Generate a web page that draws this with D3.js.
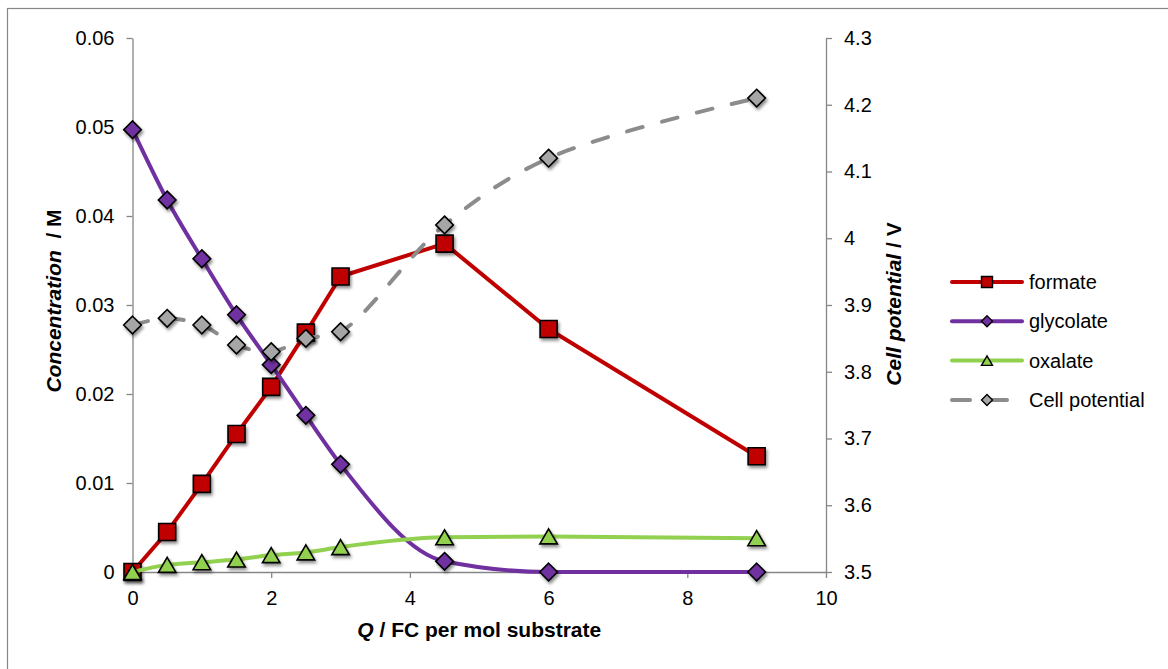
<!DOCTYPE html>
<html><head><meta charset="utf-8">
<script src="https://cdn.jsdelivr.net/npm/d3@7"></script>
<style>
body{margin:0;background:#fff}
svg{display:block}
text{font-family:"Liberation Sans",Arial,sans-serif;fill:#000}
</style>
</head><body>
<svg id="c" width="1168" height="669"></svg>
<script>
// ---- data ----
const qValues   = [0, 0.5, 1, 1.5, 2, 2.5, 3, 4.5, 6, 9];
const formate   = [0, 0.0045, 0.0099, 0.0155, 0.0208, 0.0269, 0.0332, 0.0369, 0.0273, 0.0130];
const glycolate = [0.0497, 0.0418, 0.0352, 0.0289, 0.0233, 0.0176, 0.0121, 0.0012, 0, 0];
const oxalate   = [0, 0.0008, 0.0011, 0.0014, 0.0019, 0.0022, 0.0028, 0.0039, 0.0040, 0.0038];
const cellPotential = [3.87, 3.88, 3.87, 3.84, 3.83, 3.85, 3.86, 4.02, 4.12, 4.21];
const seriesNames = ["formate", "glycolate", "oxalate", "Cell potential"];
const xTicks    = [0, 2, 4, 6, 8, 10];
const concTicks = [0, 0.01, 0.02, 0.03, 0.04, 0.05, 0.06];
const potTicks  = [3.5, 3.6, 3.7, 3.8, 3.9, 4.0, 4.1, 4.2, 4.3];

// ---- setup ----
const svg = d3.select("#c");
const L = 132.5, R = 826, T = 38, B = 572;
const x = d3.scaleLinear().domain([0, 10]).range([L, R]);
const yL = d3.scaleLinear().domain([0, 0.06]).range([B, T]);
const yR = d3.scaleLinear().domain([3.5, 4.3]).range([B, T]);
const axisColor = "#868686";
const FS = 20;

const defs = svg.append("defs");
const f = defs.append("filter").attr("id", "sh").attr("x", "-50%").attr("y", "-50%").attr("width", "200%").attr("height", "200%");
f.append("feDropShadow").attr("dx", 1.5).attr("dy", 2.5).attr("stdDeviation", 1.6)
  .attr("flood-color", "#000").attr("flood-opacity", 0.45);

// outer frame
svg.append("rect").attr("x", 7.5).attr("y", 8.5).attr("width", 1200).attr("height", 700)
  .attr("fill", "none").attr("stroke", axisColor).attr("stroke-width", 1.2);

// ---- axes ----
function styleAxis(g) {
  g.selectAll(".domain").attr("stroke", axisColor).attr("stroke-width", 1.3);
  g.selectAll(".tick line").attr("stroke", axisColor).attr("stroke-width", 1.3);
  g.selectAll(".tick text").attr("font-size", FS).attr("font-family", "Liberation Sans, Arial, sans-serif").attr("fill", "#000");
}
const gx = svg.append("g").attr("transform", `translate(0,${B})`)
  .call(d3.axisBottom(x).tickValues(xTicks).tickSize(6).tickSizeOuter(0).tickPadding(13).tickFormat(d => String(d)));
styleAxis(gx);
const gl = svg.append("g").attr("transform", `translate(${L},0)`)
  .call(d3.axisLeft(yL).tickValues(concTicks).tickSize(6).tickSizeOuter(0).tickPadding(12).tickFormat(d => String(+d.toFixed(2))));
styleAxis(gl);
const gr = svg.append("g").attr("transform", `translate(${R},0)`)
  .call(d3.axisRight(yR).tickValues(potTicks).tickSize(6).tickSizeOuter(0).tickPadding(12).tickFormat(d => String(+d.toFixed(1))));
styleAxis(gr);

// axis titles
const TFS = 21;
const xt = svg.append("text").attr("x", (L + R) / 2).attr("y", 637).attr("text-anchor", "middle")
  .attr("font-size", TFS).attr("font-weight", "bold").style("white-space", "pre");
xt.append("tspan").attr("font-style", "italic").text("Q");
xt.append("tspan").text(" / FC per mol substrate");

const lt = svg.append("text").attr("transform", `translate(61,${(T + B) / 2 - 4}) rotate(-90)`)
  .attr("text-anchor", "middle").attr("font-size", TFS).attr("font-weight", "bold").style("white-space", "pre");
lt.append("tspan").attr("font-style", "italic").text("Concentration");
lt.append("tspan").text("  / M");

const rt = svg.append("text").attr("transform", `translate(901,${(T + B) / 2 - 1}) rotate(-90)`)
  .attr("text-anchor", "middle").attr("font-size", TFS).attr("font-weight", "bold").style("white-space", "pre");
rt.append("tspan").attr("font-style", "italic").text("Cell potential");
rt.append("tspan").text(" / V");

// ---- marker shapes ----
function squarePath(s) { const h = s / 2; return `M${-h},${-h}H${h}V${h}H${-h}Z`; }
function diamondPath(r) { return `M0,${-r}L${r},0L0,${r}L${-r},0Z`; }
function trianglePath(w, hgt) { return `M0,${-hgt / 2}L${w / 2},${hgt / 2}L${-w / 2},${hgt / 2}Z`; }

const series = [
  { name: seriesNames[0], vals: formate, y: yL, color: "#c00000", fill: "#c00000", curve: d3.curveLinear, dash: null,
    shape: squarePath(17), lshape: squarePath(11) },
  { name: seriesNames[1], vals: glycolate, y: yL, color: "#7030a0", fill: "#7030a0", curve: d3.curveMonotoneX, dash: null,
    shape: diamondPath(8.8), lshape: diamondPath(5.5) },
  { name: seriesNames[2], vals: oxalate, y: yL, color: "#92d050", fill: "#92d050", curve: d3.curveMonotoneX, dash: null,
    shape: trianglePath(17.5, 15), lshape: trianglePath(11, 9.5) },
  { name: seriesNames[3], vals: cellPotential, y: yR, color: "#8c8c8c", fill: "#a6a6a6", curve: d3.curveCatmullRom.alpha(0.5), dash: "16,20",
    shape: diamondPath(8.8), lshape: diamondPath(5.5) }
];

const plot = svg.append("g");
series.forEach(s => {
  const pts = qValues.map((q, i) => [q, s.vals[i]]);
  const line = d3.line().x(d => x(d[0])).y(d => s.y(d[1])).curve(s.curve);
  plot.append("path").attr("d", line(pts)).attr("fill", "none").attr("stroke", s.color)
    .attr("stroke-width", 4).attr("stroke-linejoin", "round")
    .attr("stroke-linecap", "round").attr("stroke-dasharray", s.dash);
  plot.append("g").selectAll("path").data(pts).join("path")
    .attr("d", s.shape)
    .attr("transform", d => `translate(${x(d[0])},${s.y(d[1])})`)
    .attr("fill", s.fill).attr("stroke", "#000").attr("stroke-width", 1.6)
    .attr("filter", "url(#sh)");
});

// ---- legend ----
const legY0 = 282, legDy = 39.3, lx1 = 952, lx2 = 1022, lmx = 987;
series.forEach((s, i) => {
  const g = svg.append("g").attr("transform", `translate(0,${legY0 + i * legDy})`);
  if (s.dash) {
    g.append("line").attr("x1", lx1).attr("x2", 970).attr("stroke", s.color).attr("stroke-width", 4).attr("stroke-linecap", "round");
    g.append("line").attr("x1", 984).attr("x2", 1007).attr("stroke", s.color).attr("stroke-width", 4).attr("stroke-linecap", "round");
  } else {
    g.append("line").attr("x1", lx1).attr("x2", lx2).attr("stroke", s.color).attr("stroke-width", 4).attr("stroke-linecap", "round");
  }
  g.append("path").attr("d", s.lshape).attr("transform", `translate(${lmx},0)`)
    .attr("fill", s.fill).attr("stroke", "#000").attr("stroke-width", 1.4);
  g.append("text").attr("x", 1029).attr("y", 0).attr("dy", "0.35em").attr("font-size", FS).text(s.name);
});
</script>
</body></html>
